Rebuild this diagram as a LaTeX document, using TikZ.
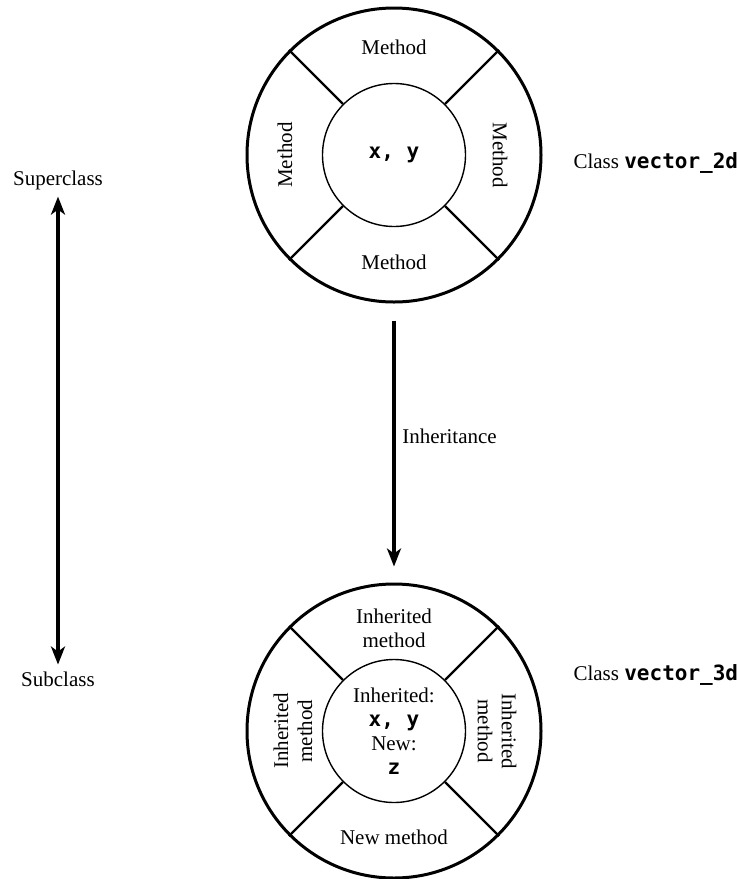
\documentclass[tikz,border=0pt]{standalone}
\usepackage{fontspec}
\setmainfont{Liberation Serif}
\setmonofont{DejaVu Sans Mono}
\usetikzlibrary{positioning,arrows.meta}

\tikzset{
  ring/.style={circle, draw, line width=1.5pt, minimum size=147pt, inner sep=0pt},
  core/.style={circle, draw, line width=0.7pt, minimum size=71.5pt, inner sep=0pt, align=center},
  divider/.style={line width=1.2pt},
  tip/.tip={Stealth[length=9pt, width=7pt, inset=2.5pt]},
  arr/.style={line width=1.6pt, -tip},
  darr/.style={line width=1.6pt, tip-tip},
  label/.style={align=center}
}
\newcommand{\code}[1]{\texttt{\bfseries #1}}

\begin{document}
\begin{tikzpicture}[x=0.5pt, y=-0.5pt, font=\fontsize{10.5}{12}\selectfont]
  \useasboundingbox (0,0) rectangle (739,879);

  % base class
  \node (top) [ring] at (394,155) {};
  \node (topcore) [core] at (top.center) {\code{x, y}};
  \foreach \a in {45,135,225,315}
    \draw[divider] (topcore.\a) -- (top.\a);
  \node (topn) [label] at ([yshift=54pt]top.center) {Method};
  \node (tops) [label] at ([yshift=-53.5pt]top.center) {Method};
  \node (topw) [label, rotate=90] at ([xshift=-54.5pt]top.center) {Method};
  \node (tope) [label, rotate=-90] at ([xshift=53pt]top.center) {Method};
  \node (cls2d) [right=12pt of top, yshift=-4pt] {Class \code{vector\_2d}};

  % derived class
  \node (bot) [ring] at (394,731) {};
  \node (botcore) [core] at (bot.center) {Inherited:\\\code{x, y}\\New:\\\code{z}};
  \foreach \a in {45,135,225,315}
    \draw[divider] (botcore.\a) -- (bot.\a);
  \node (botn) [label] at ([yshift=51.5pt]bot.center) {Inherited\\method};
  \node (bots) [label] at ([yshift=-53pt]bot.center) {New method};
  \node (botw) [label, rotate=90] at ([xshift=-50.5pt]bot.center) {Inherited\\method};
  \node (bote) [label, rotate=-90] at ([xshift=51.5pt]bot.center) {Inherited\\method};
  \node (cls3d) [right=12pt of bot, yshift=28pt] {Class \code{vector\_3d}};

  \draw[arr] ([yshift=-8.5pt]top.south) -- node[right, pos=0.47] {Inheritance} ([yshift=8pt]bot.north);

  % hierarchy
  \node (super) at (58,180) {Superclass};
  \node (sub) at (58,679) {Subclass};
  \draw[darr] (super) -- (sub);
\end{tikzpicture}
\end{document}
